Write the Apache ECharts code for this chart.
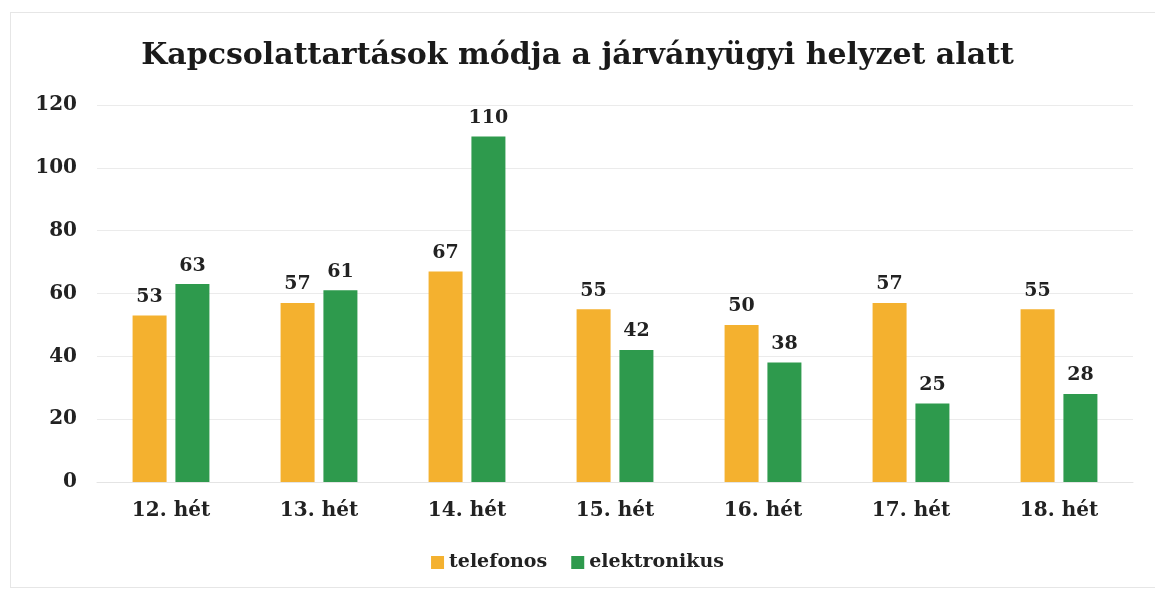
<!DOCTYPE html>
<html>
<head>
<meta charset="utf-8">
<script src="https://cdn.jsdelivr.net/npm/echarts@6/dist/echarts.min.js"></script>
<style>
  html, body { margin: 0; padding: 0; background: #fff; }
  #main { width: 1155px; height: 591px; }
  #frame { position: absolute; left: 10px; top: 12px; width: 1160px; height: 576px; border: 1px solid #e6e6e6; box-sizing: border-box; pointer-events: none; }
</style>
</head>
<body>
<div id="main"></div>
<div id="frame"></div>
<script>
// hetek
var categories = ['12. hét', '13. hét', '14. hét', '15. hét', '16. hét', '17. hét', '18. hét'];
var telefonos = [53, 57, 67, 55, 50, 57, 55];
var elektronikus = [63, 61, 110, 42, 38, 25, 28];
var yTicks = [0, 20, 40, 60, 80, 100, 120];

var serif = '"DejaVu Serif", "Liberation Serif", serif';

var chart = echarts.init(document.getElementById('main'), null, { renderer: 'canvas' });

var labelStyle = {
    show: true,
    position: 'top',
    distance: 9,
    fontFamily: serif,
    fontWeight: 'bold',
    fontSize: 19,
    color: '#222'
};

var option = {
    backgroundColor: '#ffffff',
    color: ['#F4B12F', '#2E9A4D'],
    title: {
        text: 'Kapcsolattartások módja a járványügyi helyzet alatt',
        left: 'center',
        top: 36,
        textStyle: {
            fontFamily: serif,
            fontWeight: 'bold',
            fontSize: 30,
            color: '#1a1a1a'
        }
    },
    legend: {
        bottom: 14,
        left: 'center',
        icon: 'rect',
        itemWidth: 13,
        itemHeight: 13,
        itemGap: 24,
        textStyle: {
            fontFamily: serif,
            fontWeight: 'bold',
            fontSize: 19,
            color: '#222'
        },
        data: ['telefonos', 'elektronikus']
    },
    grid: {
        left: 97,
        right: 22,
        top: 105,
        bottom: 109
    },
    xAxis: {
        type: 'category',
        data: categories,
        axisLine: { show: true, lineStyle: { color: '#e4e4e4' } },
        axisTick: { show: false },
        axisLabel: {
            margin: 19,
            fontFamily: serif,
            fontWeight: 'bold',
            fontSize: 20,
            color: '#222'
        }
    },
    yAxis: {
        type: 'value',
        min: yTicks[0],
        max: yTicks[yTicks.length - 1],
        interval: 20,
        axisLine: { show: false },
        axisTick: { show: false },
        splitLine: { lineStyle: { color: '#ebebeb' } },
        axisLabel: {
            margin: 20,
            fontFamily: serif,
            fontWeight: 'bold',
            fontSize: 20,
            color: '#222'
        }
    },
    series: [{
        name: 'telefonos',
        type: 'bar',
        data: telefonos,
        barWidth: 34,
        barGap: '26%',
        label: labelStyle
    }, {
        name: 'elektronikus',
        type: 'bar',
        data: elektronikus,
        barWidth: 34,
        barGap: '26%',
        label: labelStyle
    }]
};
chart.setOption(option);
</script>
</body>
</html>
